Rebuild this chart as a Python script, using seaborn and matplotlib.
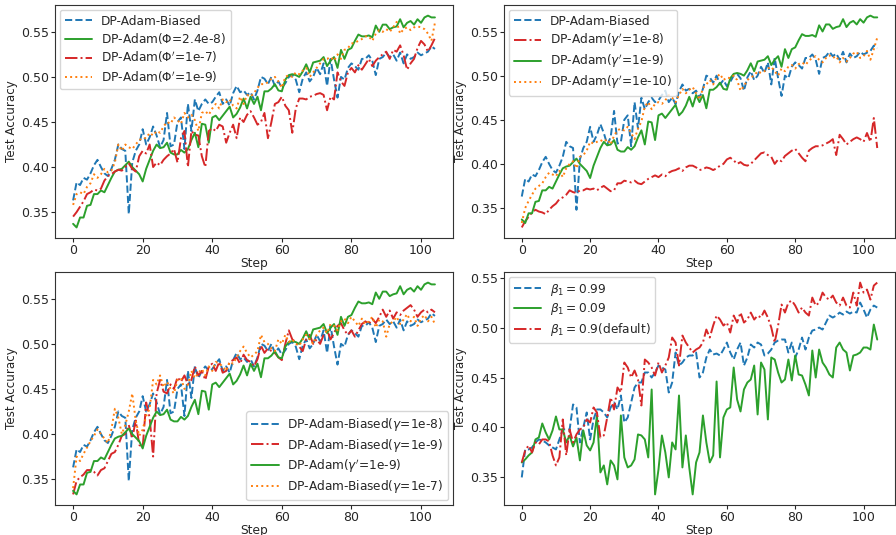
import numpy as np
import pandas as pd
import matplotlib
matplotlib.use('Agg')
import matplotlib.pyplot as plt
import seaborn as sns

steps = list(range(105))

# shared curves (panels 1-3)
biased_1e8 = [0.363, 0.383, 0.380, 0.388, 0.386, 0.393, 0.402, 0.408, 0.400, 0.393,
              0.390, 0.398, 0.408, 0.425, 0.420, 0.418, 0.348, 0.405, 0.418, 0.425,
              0.442, 0.425, 0.433, 0.445, 0.435, 0.422, 0.430, 0.460, 0.423, 0.425,
              0.450, 0.455, 0.420, 0.470, 0.440, 0.475, 0.462, 0.470, 0.475, 0.470,
              0.472, 0.478, 0.483, 0.470, 0.475, 0.468, 0.482, 0.490, 0.483, 0.485,
              0.480, 0.483, 0.475, 0.485, 0.500, 0.498, 0.492, 0.500, 0.490, 0.495,
              0.488, 0.493, 0.500, 0.502, 0.497, 0.483, 0.498, 0.505, 0.495, 0.500,
              0.510, 0.503, 0.515, 0.490, 0.520, 0.497, 0.477, 0.500, 0.497, 0.510,
              0.515, 0.512, 0.508, 0.520, 0.520, 0.524, 0.518, 0.502, 0.520, 0.522,
              0.527, 0.522, 0.525, 0.518, 0.527, 0.515, 0.525, 0.520, 0.522, 0.527,
              0.524, 0.526, 0.528, 0.534, 0.531]
adam_1e9 = [0.337, 0.333, 0.344, 0.344, 0.357, 0.358, 0.370, 0.370, 0.374, 0.372,
            0.380, 0.388, 0.395, 0.397, 0.398, 0.402, 0.406, 0.400, 0.396, 0.392,
            0.384, 0.398, 0.408, 0.418, 0.425, 0.421, 0.422, 0.427, 0.416, 0.414,
            0.414, 0.419, 0.416, 0.420, 0.430, 0.438, 0.422, 0.448, 0.447, 0.427,
            0.455, 0.457, 0.452, 0.457, 0.462, 0.467, 0.455, 0.459, 0.466, 0.476,
            0.465, 0.478, 0.470, 0.478, 0.463, 0.484, 0.484, 0.487, 0.492, 0.485,
            0.484, 0.497, 0.502, 0.503, 0.502, 0.500, 0.506, 0.514, 0.505, 0.516,
            0.517, 0.518, 0.522, 0.512, 0.518, 0.522, 0.510, 0.530, 0.520, 0.530,
            0.532, 0.540, 0.547, 0.545, 0.545, 0.546, 0.544, 0.557, 0.550, 0.558,
            0.558, 0.553, 0.555, 0.556, 0.564, 0.555, 0.560, 0.562, 0.558, 0.564,
            0.560, 0.566, 0.568, 0.566, 0.566]

# panel 1
phi_1e7 = [0.345, 0.350, 0.356, 0.362, 0.370, 0.372, 0.375, 0.374, 0.376, 0.385,
           0.390, 0.392, 0.395, 0.397, 0.396, 0.400, 0.404, 0.398, 0.395, 0.412,
           0.418, 0.415, 0.425, 0.400, 0.405, 0.402, 0.408, 0.412, 0.415, 0.420,
           0.405, 0.432, 0.440, 0.400, 0.440, 0.436, 0.435, 0.412, 0.400, 0.440,
           0.443, 0.440, 0.447, 0.445, 0.427, 0.438, 0.447, 0.432, 0.455, 0.450,
           0.458, 0.462, 0.455, 0.447, 0.450, 0.460, 0.432, 0.450, 0.470, 0.472,
           0.478, 0.468, 0.463, 0.438, 0.465, 0.476, 0.476, 0.475, 0.478, 0.479,
           0.481, 0.482, 0.480, 0.463, 0.478, 0.475, 0.505, 0.495, 0.490, 0.505,
           0.510, 0.505, 0.513, 0.508, 0.514, 0.520, 0.512, 0.518, 0.522, 0.525,
           0.528, 0.520, 0.530, 0.528, 0.535, 0.524, 0.508, 0.515, 0.520, 0.532,
           0.540, 0.536, 0.528, 0.535, 0.543]
phi_1e9 = [0.358, 0.370, 0.372, 0.370, 0.378, 0.382, 0.392, 0.388, 0.392, 0.398,
           0.394, 0.396, 0.405, 0.425, 0.418, 0.425, 0.422, 0.420, 0.425, 0.430,
           0.432, 0.432, 0.438, 0.435, 0.440, 0.438, 0.445, 0.450, 0.448, 0.455,
           0.452, 0.448, 0.460, 0.455, 0.458, 0.452, 0.440, 0.460, 0.462, 0.458,
           0.465, 0.470, 0.465, 0.475, 0.472, 0.475, 0.468, 0.465, 0.478, 0.470,
           0.480, 0.478, 0.482, 0.488, 0.492, 0.492, 0.494, 0.498, 0.500, 0.495,
           0.488, 0.500, 0.502, 0.500, 0.505, 0.503, 0.507, 0.510, 0.500, 0.505,
           0.510, 0.515, 0.520, 0.520, 0.522, 0.518, 0.525, 0.520, 0.530, 0.532,
           0.537, 0.538, 0.540, 0.542, 0.545, 0.545, 0.540, 0.548, 0.552, 0.550,
           0.553, 0.550, 0.555, 0.561, 0.548, 0.553, 0.555, 0.552, 0.555, 0.556,
           0.555, 0.553, 0.548, 0.540, 0.560]

# panel 2
gam_1e8 = [0.328, 0.335, 0.340, 0.345, 0.348, 0.346, 0.345, 0.343, 0.348, 0.352,
           0.355, 0.360, 0.362, 0.365, 0.370, 0.368, 0.367, 0.370, 0.370, 0.372,
           0.371, 0.372, 0.370, 0.373, 0.375, 0.372, 0.369, 0.370, 0.378, 0.378,
           0.381, 0.380, 0.379, 0.381, 0.378, 0.377, 0.380, 0.383, 0.385, 0.387,
           0.385, 0.388, 0.386, 0.390, 0.392, 0.393, 0.395, 0.392, 0.396, 0.398,
           0.398, 0.396, 0.393, 0.394, 0.396, 0.395, 0.393, 0.395, 0.398, 0.400,
           0.405, 0.407, 0.404, 0.400, 0.402, 0.399, 0.398, 0.400, 0.404, 0.408,
           0.412, 0.413, 0.410, 0.408, 0.400, 0.405, 0.403, 0.409, 0.412, 0.415,
           0.417, 0.412, 0.407, 0.403, 0.415, 0.418, 0.420, 0.420, 0.421, 0.423,
           0.425, 0.428, 0.410, 0.433, 0.428, 0.422, 0.425, 0.428, 0.430, 0.428,
           0.425, 0.435, 0.425, 0.452, 0.418]
gam_1e10 = [0.333, 0.350, 0.358, 0.365, 0.372, 0.375, 0.378, 0.385, 0.390, 0.388,
            0.386, 0.392, 0.385, 0.395, 0.400, 0.403, 0.395, 0.408, 0.410, 0.415,
            0.425, 0.423, 0.425, 0.427, 0.425, 0.428, 0.422, 0.432, 0.438, 0.440,
            0.438, 0.442, 0.435, 0.428, 0.440, 0.448, 0.465, 0.470, 0.462, 0.468,
            0.470, 0.468, 0.472, 0.478, 0.475, 0.470, 0.478, 0.485, 0.480, 0.484,
            0.487, 0.480, 0.473, 0.486, 0.490, 0.495, 0.490, 0.498, 0.502, 0.495,
            0.498, 0.497, 0.500, 0.495, 0.483, 0.488, 0.495, 0.498, 0.500, 0.505,
            0.503, 0.505, 0.508, 0.510, 0.505, 0.500, 0.508, 0.505, 0.510, 0.512,
            0.508, 0.513, 0.515, 0.512, 0.517, 0.520, 0.522, 0.518, 0.515, 0.520,
            0.523, 0.520, 0.522, 0.515, 0.520, 0.516, 0.520, 0.525, 0.527, 0.520,
            0.522, 0.528, 0.518, 0.530, 0.543]

# panel 3
biased_1e9 = [0.333, 0.348, 0.352, 0.355, 0.360, 0.360, 0.358, 0.354, 0.360, 0.362,
              0.370, 0.378, 0.380, 0.388, 0.398, 0.400, 0.410, 0.395, 0.415, 0.388,
              0.385, 0.435, 0.418, 0.375, 0.445, 0.460, 0.447, 0.445, 0.455, 0.450,
              0.463, 0.458, 0.465, 0.455, 0.460, 0.475, 0.465, 0.470, 0.460, 0.475,
              0.478, 0.470, 0.480, 0.468, 0.470, 0.480, 0.482, 0.485, 0.478, 0.488,
              0.482, 0.480, 0.475, 0.483, 0.498, 0.490, 0.495, 0.492, 0.490, 0.485,
              0.482, 0.500, 0.515, 0.505, 0.502, 0.497, 0.492, 0.505, 0.510, 0.500,
              0.505, 0.500, 0.510, 0.515, 0.505, 0.512, 0.520, 0.523, 0.515, 0.510,
              0.515, 0.508, 0.515, 0.522, 0.525, 0.522, 0.528, 0.523, 0.530, 0.538,
              0.530, 0.537, 0.528, 0.535, 0.532, 0.537, 0.540, 0.543, 0.538, 0.530,
              0.535, 0.538, 0.535, 0.538, 0.535]
biased_1e7 = [0.340, 0.375, 0.370, 0.378, 0.385, 0.392, 0.398, 0.405, 0.400, 0.395,
              0.390, 0.405, 0.428, 0.418, 0.400, 0.410, 0.425, 0.445, 0.415, 0.398,
              0.405, 0.420, 0.428, 0.460, 0.455, 0.465, 0.452, 0.458, 0.450, 0.445,
              0.460, 0.462, 0.450, 0.455, 0.470, 0.462, 0.468, 0.472, 0.465, 0.475,
              0.470, 0.480, 0.478, 0.475, 0.470, 0.480, 0.478, 0.485, 0.492, 0.497,
              0.490, 0.485, 0.488, 0.492, 0.510, 0.502, 0.500, 0.495, 0.492, 0.505,
              0.500, 0.510, 0.502, 0.505, 0.500, 0.498, 0.505, 0.510, 0.505, 0.500,
              0.510, 0.515, 0.518, 0.512, 0.522, 0.520, 0.515, 0.525, 0.528, 0.523,
              0.530, 0.525, 0.520, 0.528, 0.522, 0.525, 0.530, 0.518, 0.527, 0.525,
              0.508, 0.522, 0.525, 0.530, 0.522, 0.527, 0.533, 0.525, 0.530, 0.520,
              0.528, 0.532, 0.525, 0.530, 0.522]

# panel 4
beta_099 = [0.350, 0.378, 0.378, 0.380, 0.385, 0.388, 0.387, 0.385, 0.382, 0.380,
            0.378, 0.388, 0.398, 0.398, 0.398, 0.423, 0.420, 0.385, 0.400, 0.415,
            0.388, 0.408, 0.418, 0.418, 0.415, 0.410, 0.420, 0.425, 0.418, 0.432,
            0.405, 0.410, 0.425, 0.440, 0.445, 0.445, 0.455, 0.455, 0.450, 0.455,
            0.462, 0.460, 0.458, 0.435, 0.445, 0.475, 0.462, 0.465, 0.470, 0.472,
            0.472, 0.475, 0.450, 0.455, 0.470, 0.478, 0.473, 0.474, 0.472, 0.478,
            0.485, 0.475, 0.468, 0.478, 0.485, 0.462, 0.470, 0.483, 0.480, 0.485,
            0.483, 0.472, 0.474, 0.478, 0.485, 0.487, 0.488, 0.488, 0.475, 0.485,
            0.470, 0.478, 0.490, 0.478, 0.490, 0.497, 0.498, 0.500, 0.498, 0.505,
            0.512, 0.510, 0.512, 0.515, 0.513, 0.516, 0.514, 0.516, 0.515, 0.525,
            0.518, 0.510, 0.518, 0.522, 0.520]
beta_009 = [0.365, 0.368, 0.372, 0.375, 0.388, 0.390, 0.404, 0.395, 0.388, 0.397,
            0.411, 0.398, 0.398, 0.385, 0.392, 0.381, 0.390, 0.367, 0.397, 0.382,
            0.377, 0.385, 0.412, 0.355, 0.362, 0.343, 0.367, 0.362, 0.348, 0.412,
            0.370, 0.360, 0.362, 0.368, 0.393, 0.392, 0.388, 0.370, 0.438, 0.333,
            0.358, 0.392, 0.375, 0.350, 0.385, 0.378, 0.432, 0.360, 0.392, 0.360,
            0.333, 0.365, 0.375, 0.412, 0.385, 0.365, 0.372, 0.446, 0.370, 0.410,
            0.418, 0.420, 0.460, 0.428, 0.416, 0.438, 0.445, 0.448, 0.462, 0.413,
            0.465, 0.458, 0.408, 0.470, 0.468, 0.455, 0.445, 0.448, 0.468, 0.447,
            0.472, 0.453, 0.452, 0.443, 0.432, 0.477, 0.450, 0.478, 0.465, 0.460,
            0.453, 0.450, 0.480, 0.485, 0.478, 0.475, 0.457, 0.472, 0.473, 0.475,
            0.480, 0.480, 0.478, 0.503, 0.488]
beta_09 = [0.365, 0.377, 0.382, 0.375, 0.385, 0.383, 0.388, 0.388, 0.386, 0.372,
           0.362, 0.370, 0.408, 0.372, 0.398, 0.385, 0.393, 0.398, 0.400, 0.408,
           0.405, 0.420, 0.415, 0.390, 0.392, 0.410, 0.430, 0.418, 0.440, 0.435,
           0.465, 0.460, 0.450, 0.457, 0.448, 0.422, 0.468, 0.465, 0.460, 0.452,
           0.465, 0.455, 0.462, 0.470, 0.490, 0.485, 0.462, 0.492, 0.485, 0.480,
           0.475, 0.478, 0.480, 0.485, 0.498, 0.490, 0.502, 0.512, 0.508, 0.502,
           0.505, 0.495, 0.512, 0.505, 0.515, 0.505, 0.508, 0.515, 0.508, 0.512,
           0.510, 0.517, 0.510, 0.500, 0.485, 0.502, 0.523, 0.515, 0.525, 0.527,
           0.522, 0.515, 0.520, 0.515, 0.512, 0.530, 0.522, 0.525, 0.535, 0.530,
           0.528, 0.532, 0.525, 0.522, 0.530, 0.522, 0.520, 0.535, 0.522, 0.545,
           0.535, 0.538, 0.528, 0.542, 0.545]

BLUE, ORANGE, GREEN, RED = '#1f77b4', '#ff7f0e', '#2ca02c', '#d62728'

panels = [
    ([biased_1e8, adam_1e9, phi_1e7, phi_1e9],
     ['DP-Adam-Biased', r'DP-Adam($\Phi$=2.4e-8)', r"DP-Adam($\Phi'$=1e-7)", r"DP-Adam($\Phi'$=1e-9)"],
     [BLUE, GREEN, RED, ORANGE], ['--', '-', '-.', ':'], 'upper left'),
    ([biased_1e8, gam_1e8, adam_1e9, gam_1e10],
     ['DP-Adam-Biased', r"DP-Adam($\gamma'$=1e-8)", r"DP-Adam($\gamma'$=1e-9)", r"DP-Adam($\gamma'$=1e-10)"],
     [BLUE, RED, GREEN, ORANGE], ['--', '-.', '-', ':'], 'upper left'),
    ([biased_1e8, biased_1e9, adam_1e9, biased_1e7],
     [r'DP-Adam-Biased($\gamma$=1e-8)', r'DP-Adam-Biased($\gamma$=1e-9)', r"DP-Adam($\gamma'$=1e-9)", r'DP-Adam-Biased($\gamma$=1e-7)'],
     [BLUE, RED, GREEN, ORANGE], ['--', '-.', '-', ':'], 'lower right'),
    ([beta_099, beta_009, beta_09],
     [r'$\beta_1 = 0.99$', r'$\beta_1 = 0.09$', r'$\beta_1 = 0.9$(default)'],
     [BLUE, GREEN, RED], ['--', '-', '-.'], 'upper left'),
]

sns.set_style('ticks')
plt.rcParams['font.family'] = ['DejaVu Sans']

fig = plt.figure(figsize=(8.96, 5.35), dpi=100)
boxes = [(0.0614, 0.5551, 0.4442, 0.4355), (0.5625, 0.5551, 0.4364, 0.4355),
         (0.0614, 0.0561, 0.4442, 0.4355), (0.5625, 0.0561, 0.4364, 0.4355)]

for box, (series, labels, colors, styles, loc) in zip(boxes, panels):
    ax = fig.add_axes(box)
    for vals, lab, col, ls in zip(series, labels, colors, styles):
        sns.lineplot(x=steps, y=vals, ax=ax, color=col, linestyle=ls, lw=1.4, label=lab)
    ax.set_xlabel('Step', fontsize=8.8, labelpad=-0.5)
    ax.set_ylabel('Test Accuracy', fontsize=8.6, labelpad=2)
    ax.tick_params(labelsize=9, length=3, pad=1.5)
    ax.set_xticks([0, 20, 40, 60, 80, 100])
    ax.set_yticks([0.35, 0.40, 0.45, 0.50, 0.55])
    for s in ax.spines.values():
        s.set_color('#333333')
        s.set_linewidth(0.8)
    ax.legend(loc=loc, fontsize=8.7, handlelength=2.3, borderpad=0.4,
              labelspacing=0.3, borderaxespad=0.4, handletextpad=0.7)

fig.savefig('out.png', dpi=100)
